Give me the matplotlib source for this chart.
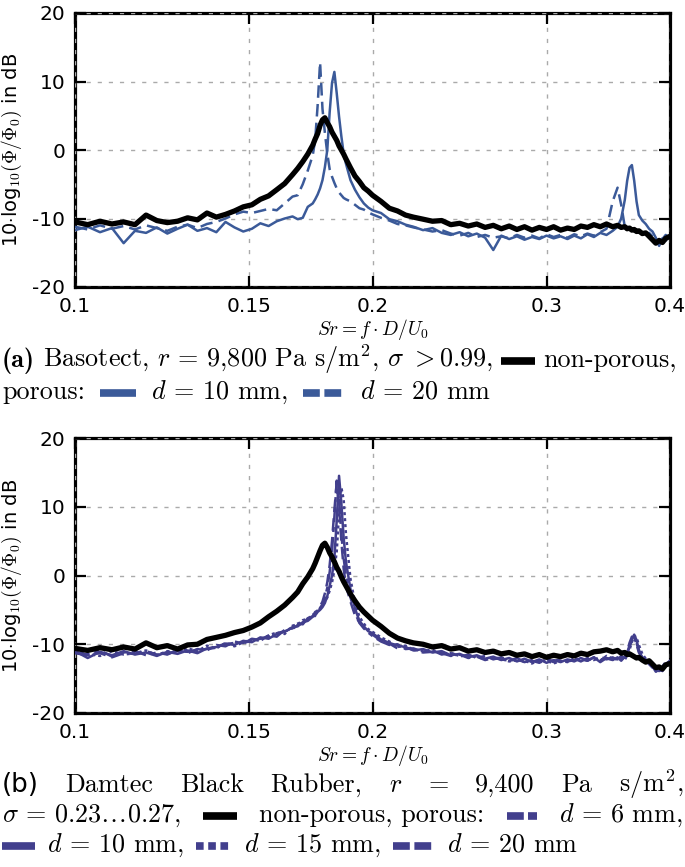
import matplotlib
matplotlib.use("Agg")
import matplotlib.pyplot as plt
from matplotlib.lines import Line2D
from matplotlib.ticker import FixedLocator, NullLocator

plt.rcParams['mathtext.fontset'] = 'cm'
plt.rcParams['font.family'] = ['DejaVu Sans']

W, H = 685, 867

SR = [0.100, 0.103, 0.106, 0.109, 0.112, 0.115, 0.118, 0.121, 0.124, 0.127, 0.130, 0.133,
      0.136, 0.139, 0.142, 0.145, 0.148, 0.151, 0.154, 0.157, 0.160, 0.163, 0.166,
      0.168, 0.170, 0.172, 0.174, 0.175, 0.176, 0.177, 0.178, 0.179, 0.180, 0.181, 0.182,
      0.183, 0.184, 0.185, 0.186, 0.187, 0.188, 0.190, 0.192, 0.194, 0.196, 0.198, 0.200,
      0.204, 0.208, 0.212, 0.216, 0.220, 0.225, 0.230, 0.235, 0.240, 0.245, 0.250, 0.255,
      0.260, 0.265, 0.270, 0.275, 0.280, 0.285, 0.290, 0.295, 0.300, 0.305, 0.310, 0.315,
      0.320, 0.325, 0.330, 0.335, 0.340, 0.345,
      0.350, 0.354, 0.357, 0.360, 0.362, 0.364, 0.366, 0.368, 0.370, 0.372, 0.375, 0.378,
      0.381, 0.384, 0.387, 0.390, 0.393, 0.396, 0.400]

# (a) Basotect
A_NONPOROUS = [-10.5, -10.9, -10.4, -10.8, -10.5, -10.9, -9.5, -10.3, -10.6, -10.4, -9.9, -10.2,
               -9.2, -9.8, -9.4, -8.9, -8.3, -8.0, -7.2, -6.7, -5.8, -4.9, -3.6,
               -2.7, -1.7, -0.6, 0.7, 1.6, 2.4, 3.6, 4.4, 4.7, 4.0, 3.4, 2.6,
               2.0, 1.4, 0.6, 0.0, -0.6, -1.3, -2.6, -3.8, -4.6, -5.5, -6.0, -6.6,
               -7.5, -8.5, -8.9, -9.5, -9.8, -10.1, -10.4, -10.3, -10.9, -10.7, -11.1, -10.8,
               -11.3, -11.0, -11.5, -11.1, -11.6, -11.2, -11.7, -11.3, -11.6, -11.2, -11.7, -11.4,
               -11.6, -11.1, -11.3, -10.9, -11.2, -10.8,
               -11.2, -11.0, -11.3, -11.2, -11.5, -11.4, -11.7, -11.6, -11.9, -11.8, -12.2, -12.1,
               -12.6, -13.1, -13.6, -13.2, -13.5, -12.9, -12.6]
A_D10 = [-11.7, -11.2, -12.0, -11.4, -13.6, -11.8, -12.1, -11.3, -12.2, -11.5, -10.9, -11.8,
         -11.4, -12.0, -10.5, -11.3, -11.9, -11.5, -10.7, -11.1, -10.4, -10.0, -9.7,
         -10.1, -9.9, -8.3, -7.8, -7.2, -6.5, -5.6, -4.4, -2.5, 0.0, 5.5, 9.8,
         11.4, 8.3, 4.9, 2.0, -0.5, -2.0, -4.4, -5.8, -6.9, -7.8, -8.4, -8.8,
         -9.2, -10.1, -10.4, -10.9, -11.2, -11.7, -11.4, -12.1, -12.4, -12.0, -12.6, -12.2,
         -12.8, -14.6, -12.5, -13.0, -12.6, -13.1, -12.7, -13.0, -12.5, -12.9, -12.6, -13.0,
         -12.5, -12.9, -12.3, -12.7, -12.1, -12.4,
         -11.8, -11.2, -10.0, -7.3, -4.5, -2.6, -2.2, -4.5, -7.5, -9.5, -10.3, -10.8,
         -11.5, -11.9, -12.8, -14.0, -13.0, -12.4, -12.8]
A_D20 = [-11.2, -11.6, -11.0, -11.5, -11.1, -11.6, -11.0, -11.4, -11.8, -11.2, -10.9, -11.4,
         -10.8, -10.5, -10.0, -9.4, -9.0, -9.2, -8.9, -8.6, -8.8, -7.8, -6.8,
         -6.6, -5.0, -3.0, -0.8, 1.5, 6.5, 12.8, 6.0, 2.5, -0.5, -2.8, -3.9,
         -4.8, -5.6, -6.2, -6.6, -7.0, -7.2, -7.5, -8.0, -8.5, -8.7, -9.1, -9.4,
         -9.9, -10.3, -10.8, -11.0, -11.3, -11.6, -11.9, -11.7, -12.2, -12.5, -12.1, -12.7,
         -12.4, -12.8, -12.6, -12.9, -12.4, -12.8, -12.5, -12.9, -12.3, -12.7, -12.4, -12.8,
         -12.3, -12.6, -12.2, -12.5, -12.0, -11.5,
         -7.5, -5.5, -8.0, -11.2, -11.5, -11.3, -11.8, -11.5, -11.9, -11.7, -12.0, -12.3,
         -12.1, -12.6, -12.9, -13.4, -12.9, -13.2, -12.9]

# (b) Damtec Black Rubber
B_NONPOROUS = [-10.6, -10.9, -10.5, -10.8, -10.4, -10.7, -9.8, -10.5, -10.2, -10.7, -10.1, -10.0,
               -9.3, -9.0, -8.7, -8.3, -8.0, -7.5, -6.9, -6.0, -5.2, -4.3, -3.2,
               -2.4, -1.2, -0.2, 1.0, 1.8, 2.7, 3.6, 4.4, 4.7, 4.1, 3.3, 2.7,
               2.0, 1.2, 0.6, -0.2, -0.9, -1.5, -2.7, -3.7, -4.6, -5.3, -5.9, -6.5,
               -7.4, -8.4, -9.1, -9.5, -9.8, -10.0, -10.4, -10.2, -10.7, -10.5, -11.0, -10.8,
               -11.2, -11.0, -11.4, -11.2, -11.6, -11.4, -11.8, -11.5, -11.9, -11.6, -11.8, -11.5,
               -11.7, -11.3, -11.5, -11.1, -11.0, -10.8,
               -11.1, -10.9, -11.3, -11.2, -11.5, -11.4, -11.6, -11.8, -12.0, -11.9, -12.3, -12.6,
               -12.4, -12.9, -13.4, -13.3, -13.6, -13.0, -12.8]
B_D6 = [-11.3, -11.6, -10.9, -11.8, -11.2, -11.0, -11.6, -11.2, -11.5, -10.8, -11.3, -10.7,
        -10.9, -10.1, -10.3, -9.6, -9.9, -9.2, -9.4, -8.7, -8.9, -7.9, -7.7,
        -7.0, -7.1, -6.2, -6.1, -5.5, -5.6, -4.7, -4.2, -3.2, -1.8, 0.5, 3.5,
        8.5, 13.8, 11.0, 6.0, 2.5, 0.0, -3.2, -5.4, -6.9, -7.7, -8.3, -8.8,
        -9.6, -10.1, -10.0, -10.7, -10.6, -11.1, -10.9, -11.5, -11.2, -11.8, -11.5, -12.0,
        -11.7, -12.2, -11.9, -12.4, -12.2, -12.6, -12.3, -12.5, -12.1, -12.6, -12.2, -12.4,
        -12.1, -12.5, -12.0, -12.3, -11.8, -12.2,
        -11.9, -12.3, -11.7, -12.1, -11.2, -10.2, -9.6, -9.0, -10.0, -11.2, -11.9, -12.5,
        -12.6, -13.5, -13.7, -13.9, -13.2, -12.6, -12.7]
B_D10 = [-11.0, -12.0, -11.1, -11.6, -11.0, -11.5, -11.2, -11.7, -11.1, -11.4, -10.9, -11.3,
         -10.6, -10.4, -9.9, -10.1, -9.5, -9.7, -9.0, -9.2, -8.5, -8.2, -7.5,
         -7.4, -6.8, -6.6, -6.0, -5.8, -5.3, -5.0, -4.6, -4.0, -3.0, -1.5, 0.0,
         2.5, 8.0, 14.5, 10.5, 5.5, 2.0, -2.0, -4.8, -6.6, -7.4, -8.1, -8.4,
         -9.3, -9.8, -10.2, -10.4, -10.9, -10.7, -11.2, -11.0, -11.6, -11.4, -11.9, -11.6,
         -12.1, -11.8, -12.3, -12.0, -12.5, -12.1, -12.6, -12.2, -12.7, -12.3, -12.6, -12.2,
         -12.5, -12.0, -12.4, -11.9, -12.6, -12.0,
         -12.3, -11.9, -12.4, -11.8, -11.4, -10.4, -9.3, -8.6, -9.4, -10.8, -12.0, -12.2,
         -12.8, -13.2, -14.0, -13.6, -13.8, -12.9, -12.4]
B_D15 = [-10.8, -11.4, -11.7, -11.0, -11.5, -11.3, -10.9, -11.6, -11.0, -11.2, -10.6, -11.0,
         -10.2, -10.6, -9.8, -10.3, -9.7, -9.3, -9.5, -8.7, -8.3, -8.5, -7.3,
         -7.1, -6.5, -6.3, -5.7, -5.9, -5.0, -4.9, -4.3, -3.8, -3.2, -2.2, -1.0,
         0.8, 3.5, 9.0, 12.8, 11.0, 6.0, -0.5, -4.0, -6.0, -7.0, -7.8, -8.2,
         -9.0, -9.6, -10.4, -10.2, -10.8, -11.0, -10.8, -11.4, -11.3, -11.7, -11.6, -11.8,
         -12.2, -11.9, -12.1, -12.5, -12.3, -12.4, -12.8, -12.3, -12.4, -12.8, -12.4, -12.6,
         -12.0, -12.3, -12.2, -12.1, -12.4, -11.7,
         -12.1, -12.2, -11.9, -12.3, -11.6, -10.8, -9.7, -8.8, -9.0, -10.1, -11.4, -12.1,
         -12.7, -13.0, -13.8, -14.1, -13.4, -12.8, -12.5]
B_D20 = [-11.1, -11.5, -11.3, -11.9, -11.3, -11.4, -11.0, -11.5, -11.4, -11.0, -11.1, -10.8,
         -10.7, -10.5, -10.0, -9.8, -9.8, -9.5, -9.2, -8.9, -8.4, -8.1, -7.8,
         -7.2, -6.9, -6.3, -5.9, -5.3, -5.1, -4.5, -3.8, -2.6, -1.0, 1.5, 5.0,
         9.5, 13.5, 10.0, 5.0, 1.0, -1.5, -3.8, -5.8, -6.8, -7.5, -8.2, -8.6,
         -9.5, -9.9, -10.6, -10.5, -10.8, -11.2, -11.1, -11.3, -11.7, -11.5, -12.0, -11.8,
         -12.3, -12.0, -12.2, -12.4, -12.0, -12.6, -12.4, -12.7, -12.2, -12.5, -12.1, -12.5,
         -12.3, -12.2, -12.4, -11.9, -12.2, -12.1,
         -12.2, -11.8, -12.2, -11.9, -11.0, -9.8, -8.9, -9.1, -9.8, -11.0, -12.1, -12.3,
         -12.9, -13.4, -13.6, -13.5, -13.9, -13.0, -12.6]

XTICKS = [0.1, 0.15, 0.2, 0.3, 0.4]
XTICKLABELS = ['0.1', '0.15', '0.2', '0.3', '0.4']
YTICKS = [-20, -10, 0, 10, 20]
YTICKLABELS = ['-20', '-10', '0', '10', '20']

BLUE = '#3b5a99'
PURPLE = '#423f8d'
DASHED = (0, (5, 2.5))
DASHDOT = (0, (6, 2, 2, 2))
DOTTED = (0, (1.2, 1.2))


def style_axes(ax):
    ax.set_xscale('log')
    ax.set_xlim(0.1, 0.4)
    ax.set_ylim(-20, 20)
    ax.xaxis.set_major_locator(FixedLocator(XTICKS))
    ax.xaxis.set_minor_locator(NullLocator())
    ax.set_xticklabels(XTICKLABELS)
    ax.set_yticks(YTICKS)
    ax.set_yticklabels(YTICKLABELS)
    ax.tick_params(direction='in', length=8, width=1.6, top=True, right=True,
                   labelsize=14.5, pad=7)
    ax.grid(True, color='#aaaaaa', linestyle=(0, (3, 5)), linewidth=1)
    for s in ax.spines.values():
        s.set_linewidth(2.3)
        s.set_zorder(0.5)
    ax.set_ylabel(r'10$\cdot$log$_{10}(\Phi/\Phi_0)$ in dB', fontsize=14, labelpad=6)
    ax.set_xlabel(r'$Sr = f\cdot D/U_0$', fontsize=14, labelpad=1)


fig = plt.figure(figsize=(W / 100, H / 100), dpi=100)
ax1 = fig.add_axes([75 / W, 1 - 287 / H, 595 / W, 274 / H])
ax2 = fig.add_axes([75 / W, 1 - 713 / H, 595 / W, 275 / H])

ax1.plot(SR, A_D10, color=BLUE, lw=1.8)
ax1.plot(SR, A_D20, color=BLUE, lw=1.8, ls=DASHED)
ax1.plot(SR, A_NONPOROUS, color='black', lw=3.8)
style_axes(ax1)

ax2.plot(SR, B_D6, color=PURPLE, lw=1.8, ls=DASHDOT)
ax2.plot(SR, B_D10, color=PURPLE, lw=1.8)
ax2.plot(SR, B_D15, color=PURPLE, lw=1.8, ls=DOTTED)
ax2.plot(SR, B_D20, color=PURPLE, lw=1.8, ls=DASHED)
ax2.plot(SR, B_NONPOROUS, color='black', lw=3.8)
style_axes(ax2)

# captions with inline line samples
CAP = 18.8
renderer = fig.canvas.get_renderer()


def caption_line(y, items, justify=False, gap=8, sgap=13):
    placed = []
    for it in items:
        if isinstance(it, tuple) and it[0] == 'line':
            placed.append(('line', it, it[3]))
            continue
        if isinstance(it, tuple):
            t = fig.text(0, 1 - y / H, it[1], fontsize=CAP, va='baseline', family=it[0])
        else:
            t = fig.text(0, 1 - y / H, it, fontsize=CAP, va='baseline', family='cmr10')
        placed.append(('text', t, t.get_window_extent(renderer).width))
    gaps = []
    for a, b in zip(placed[:-1], placed[1:]):
        gaps.append(sgap if 'line' in (a[0], b[0]) else gap)
    total = sum(p[2] for p in placed) + sum(gaps)
    extra = (W - 4 - total) / len(gaps) if justify else 0
    x = 2
    for i, (kind, obj, w) in enumerate(placed):
        if kind == 'text':
            obj.set_x(x / W)
        else:
            color, ls = obj[1], obj[2]
            yy = 1 - (y - 6) / H
            fig.add_artist(Line2D([x / W, (x + w) / W], [yy, yy], transform=fig.transFigure,
                                  color=color, lw=5.5, ls=ls, solid_capstyle='butt',
                                  dash_capstyle='butt'))
        if i < len(gaps):
            x += w + gaps[i] + extra


caption_line(367, [('cmb10', '(a)'), r'Basotect, $r$ = 9,800 Pa s/m$^2$, $\sigma\ > 0.99$,',
                   ('line', 'black', '-', 34), 'non-porous,'], sgap=8)
caption_line(399, ['porous:', ('line', BLUE, '-', 36), '$d$ = 10 mm,',
                   ('line', BLUE, (0, (2.2, 0.6)), 42), '$d$ = 20 mm'], sgap=15)

caption_line(792, [('DejaVu Sans', '(b)'), 'Damtec', 'Black', 'Rubber,', '$r$', '=', '9,400',
                   'Pa', 's/m$^2$,'], justify=True)
caption_line(822, [r'$\sigma$ = 0.23$\ldots$0.27,', ('line', 'black', '-', 34),
                   'non-porous, porous:', ('line', PURPLE, (0, (2.2, 0.55, 1.2, 0.55)), 30),
                   '$d$ = 6 mm,'], justify=True)
caption_line(852, [('line', PURPLE, '-', 33), '$d$ = 10 mm,',
                   ('line', PURPLE, (0, (1.0, 0.6)), 36), '$d$ = 15 mm,',
                   ('line', PURPLE, (0, (2.2, 0.6)), 42), '$d$ = 20 mm'], sgap=12)

fig.savefig('out.png', dpi=100)
